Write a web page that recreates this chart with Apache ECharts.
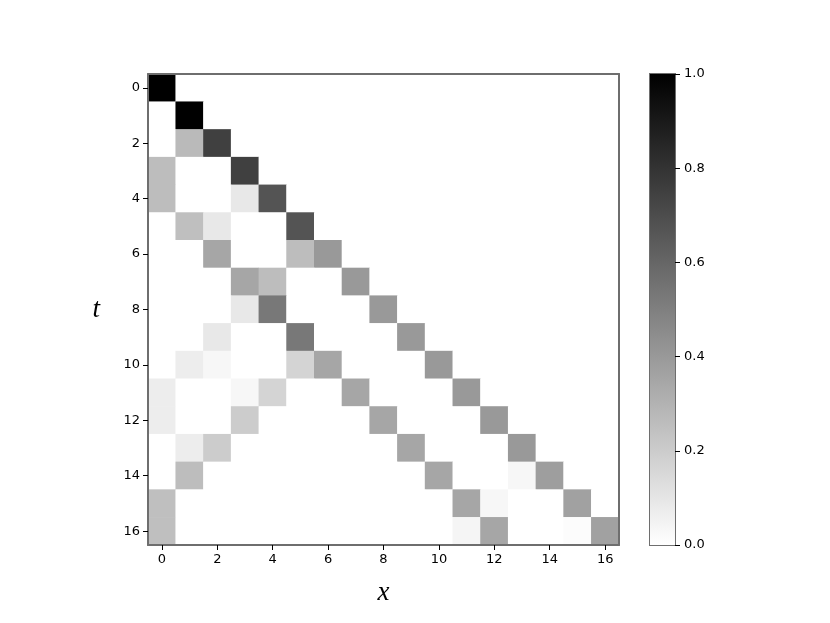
<!DOCTYPE html>
<html>
<head>
<meta charset="utf-8">
<script src="https://cdn.jsdelivr.net/npm/echarts@6/dist/echarts.min.js"></script>
<style>html,body{margin:0;padding:0;background:#fff}#c{width:830px;height:623px}</style>
</head>
<body>
<div id="c"></div>
<script>
const xCategories = ['0','1','2','3','4','5','6','7','8','9','10','11','12','13','14','15','16'];
const tCategories = ['0','1','2','3','4','5','6','7','8','9','10','11','12','13','14','15','16'];
const colorbarTicks = [0, 0.2, 0.4, 0.6, 0.8, 1.0];
// rows indexed by t, columns by x
const values = [
  [1,0,0,0,0,0,0,0,0,0,0,0,0,0,0,0,0],
  [0,1,0,0,0,0,0,0,0,0,0,0,0,0,0,0,0],
  [0,.27,.75,0,0,0,0,0,0,0,0,0,0,0,0,0,0],
  [.26,0,0,.75,0,0,0,0,0,0,0,0,0,0,0,0,0],
  [.26,0,0,.09,.67,0,0,0,0,0,0,0,0,0,0,0,0],
  [0,.25,.09,0,0,.67,0,0,0,0,0,0,0,0,0,0,0],
  [0,0,.35,0,0,.26,.40,0,0,0,0,0,0,0,0,0,0],
  [0,0,0,.35,.26,0,0,.40,0,0,0,0,0,0,0,0,0],
  [0,0,0,.09,.53,0,0,0,.40,0,0,0,0,0,0,0,0],
  [0,0,.09,0,0,.53,0,0,0,.40,0,0,0,0,0,0,0],
  [0,.07,.03,0,0,.17,.35,0,0,0,.40,0,0,0,0,0,0],
  [.07,0,0,.03,.17,0,0,.35,0,0,0,.40,0,0,0,0,0],
  [.07,0,0,.20,0,0,0,0,.35,0,0,0,.40,0,0,0,0],
  [0,.07,.20,0,0,0,0,0,0,.35,0,0,0,.40,0,0,0],
  [0,.26,0,0,0,0,0,0,0,0,.35,0,0,.03,.38,0,0],
  [.25,0,0,0,0,0,0,0,0,0,0,.35,.03,0,0,.37,0],
  [.25,0,0,0,0,0,0,0,0,0,0,.04,.35,0,0,.01,.37]
];

const heatData = [];
values.forEach((row, t) => row.forEach((v, x) => heatData.push([x, t, v])));

const axisColor = '#6e6e6e';
const labelFont = {fontFamily: 'DejaVu Sans', fontSize: 13, color: '#000'};
const spineOnly = {
  show: true, z: 10,
  axisLine: {show: true, onZero: false, lineStyle: {color: axisColor, width: 2}},
  axisTick: {show: false}, axisLabel: {show: false}, splitLine: {show: false}
};

const chart = echarts.init(document.getElementById('c'), null, {renderer: 'canvas'});
chart.setOption({
  backgroundColor: '#fff',
  animation: false,
  grid: [
    {left: 148, top: 74, width: 471, height: 471, show: false},
    {left: 650, top: 74, width: 25, height: 471, show: true, borderColor: axisColor, borderWidth: 2, backgroundColor: 'transparent'}
  ],
  xAxis: [
    {
      type: 'category', gridIndex: 0, data: xCategories, position: 'bottom', z: 10,
      axisLine: {show: true, onZero: false, lineStyle: {color: axisColor, width: 2}},
      axisTick: {show: true, alignWithLabel: true, interval: 1, length: 5, lineStyle: {color: '#000'}},
      axisLabel: Object.assign({interval: 1, margin: 8}, labelFont),
      splitLine: {show: false},
      name: 'x', nameLocation: 'middle', nameGap: 34,
      nameTextStyle: {fontFamily: 'Liberation Serif', fontStyle: 'italic', fontSize: 27, color: '#000'}
    },
    {
      type: 'category', gridIndex: 1, data: ['cb'], show: false
    },
    Object.assign({type: 'category', gridIndex: 0, data: xCategories, position: 'top'}, spineOnly)
  ],
  yAxis: [
    {
      type: 'category', gridIndex: 0, data: tCategories, inverse: true, z: 10,
      axisLine: {show: true, onZero: false, lineStyle: {color: axisColor, width: 2}},
      axisTick: {show: true, alignWithLabel: true, interval: 1, length: 5, lineStyle: {color: '#000'}},
      axisLabel: Object.assign({interval: 1, margin: 8}, labelFont),
      splitLine: {show: false},
      name: 't', nameLocation: 'middle', nameGap: 48, nameRotate: 0,
      nameTextStyle: {fontFamily: 'Liberation Serif', fontStyle: 'italic', fontSize: 27, color: '#000'}
    },
    {
      type: 'value', gridIndex: 1, position: 'right', min: 0, max: 1, interval: 0.2,
      axisLine: {show: true, lineStyle: {color: axisColor, width: 2}},
      axisTick: {show: true, length: 5, inside: false, lineStyle: {color: '#000'}},
      axisLabel: Object.assign({margin: 9, formatter: v => colorbarTicks.includes(Math.round(v*10)/10) ? v.toFixed(1) : ''}, labelFont),
      splitLine: {show: false}
    },
    Object.assign({type: 'category', gridIndex: 0, data: tCategories, inverse: true, position: 'right'}, spineOnly)
  ],
  visualMap: {
    show: false, type: 'continuous', seriesIndex: 0, dimension: 2,
    min: 0, max: 1, inRange: {color: ['#ffffff', '#000000']}
  },
  series: [
    {
      type: 'heatmap', xAxisIndex: 0, yAxisIndex: 0, data: heatData,
      itemStyle: {borderWidth: 0}, emphasis: {disabled: true}, progressive: 0
    },
    {
      type: 'bar', xAxisIndex: 1, yAxisIndex: 1, data: [1], barWidth: '100%',
      itemStyle: {color: new echarts.graphic.LinearGradient(0, 0, 0, 1, [
        {offset: 0, color: '#000000'}, {offset: 1, color: '#ffffff'}
      ])},
      silent: true
    }
  ]
});
</script>
</body>
</html>
